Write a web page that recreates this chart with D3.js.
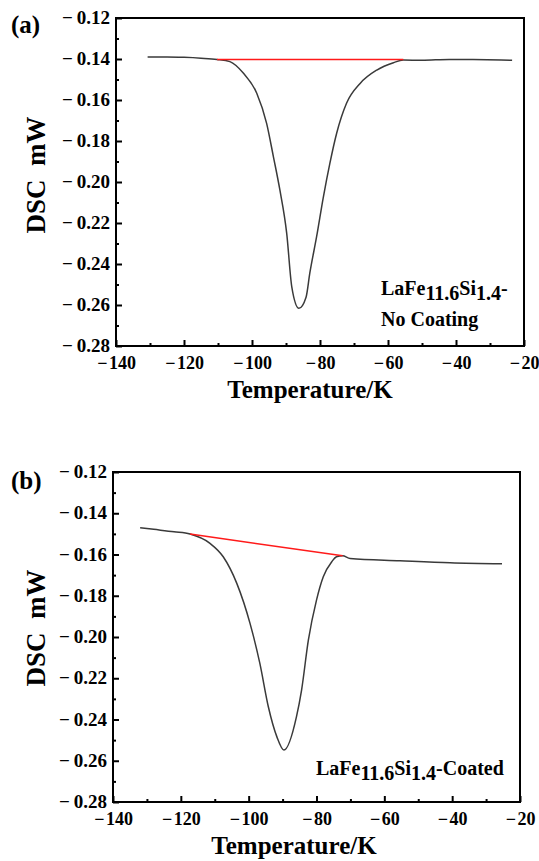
<!DOCTYPE html>
<html>
<head>
<meta charset="utf-8">
<script src="https://cdn.jsdelivr.net/npm/d3@7"></script>
<style>
  body { margin: 0; background: #fff; }
  text { font-family: "Liberation Serif", "Times New Roman", serif; font-weight: bold; fill: #000; }
</style>
</head>
<body>
<script>
// data
// (a) no coating
const tempA = [-130.7, -125, -120, -115, -110.3, -106.5, -102.5, -98.6, -95.7, -93.7, -91.8, -89.8, -88.3, -86.2,
               -84.1, -83, -81, -79, -77.1, -75.1, -72.2, -68.2, -63.3, -58.4, -55.5, -50, -42, -35, -23.5];
const dscA  = [-0.1390, -0.1390, -0.1392, -0.1396, -0.1402, -0.1413, -0.1470, -0.1567, -0.1714, -0.1877, -0.2039, -0.2249, -0.2511, -0.2616,
               -0.2562, -0.2445, -0.2267, -0.2072, -0.1909, -0.1762, -0.1616, -0.1519, -0.1454, -0.1418, -0.1405, -0.1406, -0.1402, -0.1403, -0.1406];
const baseTempA = [-110.3, -55.5];
const baseDscA  = [-0.1402, -0.1403];

// (b) coated
const tempB = [-132, -128, -122, -117.3, -111.4, -107.5, -103.5, -99.6, -96.7, -94.2, -91.7, -89.6,
               -85.9, -84.4, -82.4, -80, -78, -75.5, -74.1, -72.3, -70.1, -55.4, -40.6, -25.3];
const dscB  = [-0.1470, -0.1478, -0.1490, -0.1501, -0.1546, -0.1611, -0.1740, -0.1934, -0.2128, -0.2338, -0.2483, -0.2548,
               -0.2386, -0.2257, -0.2015, -0.1821, -0.1708, -0.1635, -0.1611, -0.1606, -0.1619, -0.1630, -0.1640, -0.1645];
const baseTempB = [-117.3, -72.3];
const baseDscB  = [-0.1501, -0.1606];

// axes
const xTicks = [-140, -120, -100, -80, -60, -40, -20];
const xMinor = [-130, -110, -90, -70, -50, -30];
const yTicks = [-0.28, -0.26, -0.24, -0.22, -0.20, -0.18, -0.16, -0.14, -0.12];
const yMinor = [-0.27, -0.25, -0.23, -0.21, -0.19, -0.17, -0.15, -0.13];

const canvWidth = 539, canvHeight = 861;

const svg = d3.select("body").append("svg")
    .attr("width", canvWidth)
    .attr("height", canvHeight);

// origin style minus with a small gap
const fmtX = v => "\u2212\u200A" + Math.abs(v);
const fmtY = v => "\u2212\u2009" + d3.format(".2f")(Math.abs(v));

function drawPanel(p) {
    const width = p.right - p.left, height = p.bottom - p.top;
    const g = svg.append("g")
        .attr("transform", "translate(" + p.left + "," + p.top + ")");

    const xScale = d3.scaleLinear().domain([-140, -20]).range([0, width]);
    const yScale = d3.scaleLinear().domain([-0.28, -0.12]).range([height, 0]);

    // major + minor ticks, pointing inwards
    const xAxis = g.append("g")
        .attr("transform", "translate(0," + height + ")")
        .call(d3.axisBottom(xScale).tickValues(xTicks).tickSizeInner(-6).tickSizeOuter(0).tickPadding(10)
            .tickFormat(fmtX));
    g.append("g")
        .attr("transform", "translate(0," + height + ")")
        .call(d3.axisBottom(xScale).tickValues(xMinor).tickSizeInner(-3).tickSizeOuter(0).tickFormat(""));

    const yAxis = g.append("g")
        .call(d3.axisLeft(yScale).tickValues(yTicks).tickSizeInner(-6).tickSizeOuter(0).tickPadding(6)
            .tickFormat(fmtY));
    g.append("g")
        .call(d3.axisLeft(yScale).tickValues(yMinor).tickSizeInner(-3).tickSizeOuter(0).tickFormat(""));

    g.selectAll(".domain").remove();
    g.selectAll(".tick line").attr("stroke", "#000").attr("stroke-width", 2);
    g.selectAll(".tick text").attr("fill", "#000");
    yAxis.selectAll(".tick text").attr("font-size", "19px").attr("dy", "0.3em");
    xAxis.selectAll(".tick text").attr("font-size", "18px").attr("dy", "0.72em");

    // frame
    g.append("rect")
        .attr("width", width)
        .attr("height", height)
        .attr("fill", "none")
        .attr("stroke", "#000")
        .attr("stroke-width", 2);

    // dsc curve
    const line = d3.line()
        .x(d => xScale(d[0]))
        .y(d => yScale(d[1]))
        .curve(d3.curveMonotoneX);

    g.append("path")
        .datum(d3.zip(p.temp, p.dsc))
        .attr("d", line)
        .attr("fill", "none")
        .attr("stroke", "#3a3a3a")
        .attr("stroke-width", 1.5);

    // baseline
    g.append("path")
        .datum(d3.zip(p.baseTemp, p.baseDsc))
        .attr("d", d3.line().x(d => xScale(d[0])).y(d => yScale(d[1])))
        .attr("fill", "none")
        .attr("stroke", "#ff1a1a")
        .attr("stroke-width", 1.5);

    // panel letter
    svg.append("text")
        .attr("x", 11)
        .attr("y", p.top + p.letterDy)
        .attr("font-size", "25px")
        .text(p.letter);

    // axis titles
    svg.append("text")
        .attr("x", p.titleX)
        .attr("y", p.bottom + 52)
        .attr("font-size", "25px")
        .style("text-anchor", "middle")
        .text("Temperature/K");

    svg.append("text")
        .attr("transform", "translate(" + 45 + "," + p.yTitleY + ") rotate(-90)")
        .attr("font-size", "27px")
        .style("text-anchor", "middle")
        .style("white-space", "pre")
        .text("DSC  mW");

    // sample label
    p.label.forEach(function(row) {
        const t = svg.append("text")
            .attr("x", row.x)
            .attr("y", row.y)
            .attr("font-size", "20px");
        row.parts.forEach(function(part) {
            t.append("tspan")
                .attr("dy", part.sub ? 5 : (part.back ? -5 : null))
                .text(part.t);
        });
    });
}

drawPanel({
    left: 116, right: 524, top: 18, bottom: 346,
    temp: tempA, dsc: dscA, baseTemp: baseTempA, baseDsc: baseDscA,
    letter: "(a)", letterDy: 15, titleX: 310, yTitleY: 175,
    label: [
        {x: 381, y: 295, parts: [{t: "LaFe"}, {t: "11.6", sub: true}, {t: "Si", back: true}, {t: "1.4", sub: true}, {t: "-", back: true}]},
        {x: 381, y: 326, parts: [{t: "No Coating"}]}
    ]
});

drawPanel({
    left: 113, right: 520, top: 472, bottom: 802,
    temp: tempB, dsc: dscB, baseTemp: baseTempB, baseDsc: baseDscB,
    letter: "(b)", letterDy: 17, titleX: 294, yTitleY: 628,
    label: [
        {x: 316, y: 775, parts: [{t: "LaFe"}, {t: "11.6", sub: true}, {t: "Si", back: true}, {t: "1.4", sub: true}, {t: "-Coated", back: true}]}
    ]
});
</script>
</body>
</html>
